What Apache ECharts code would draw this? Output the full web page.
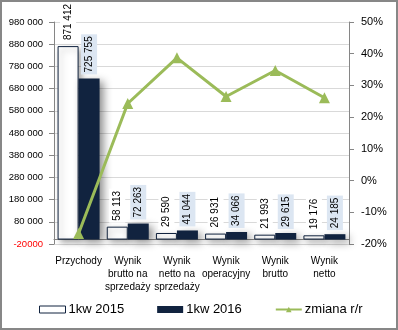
<!DOCTYPE html>
<html>
<head>
<meta charset="utf-8">
<script src="https://cdn.jsdelivr.net/npm/echarts@6/dist/echarts.min.js"></script>
<style>
html,body{margin:0;padding:0;background:#fff;}
#c{width:398px;height:330px;}
</style>
</head>
<body>
<div id="c"></div>
<script>
var categories = ['Przychody', 'Wynik\nbrutto na\nsprzedaży', 'Wynik\nnetto na\nsprzedaży', 'Wynik\noperacyjny', 'Wynik\nbrutto', 'Wynik\nnetto'];
var values2015 = [871412, 58113, 29590, 26931, 21993, 19176];
var values2016 = [725755, 72263, 41044, 34066, 29615, 24185];
var changeYoY = [-16.7, 24.3, 38.7, 26.5, 34.7, 26.1];
var leftTicks = { min: -20000, max: 980000, interval: 100000 };
var rightTicks = { min: -20, max: 50, interval: 10 };

function fmtThousands(v) {
  var s = String(Math.abs(v));
  var out = s.replace(/\B(?=(\d{3})+(?!\d))/g, ' ');
  return (v < 0 ? '-' : '') + out;
}

var FONT = 'Liberation Sans';
var chart = echarts.init(document.getElementById('c'));

var labelBase = {
  show: true,
  position: 'top',
  rotate: 90,
  align: 'left',
  verticalAlign: 'middle',
  distance: 4,
  fontFamily: FONT,
  fontSize: 10,
  color: '#000',
  lineHeight: 12,
  padding: [2, 2],
  formatter: function (p) { return fmtThousands(p.value); }
};

chart.setOption({
  animation: false,
  textStyle: { fontFamily: FONT },
  graphic: [{
    type: 'rect',
    shape: { x: 1, y: 1, width: 396, height: 328 },
    style: { fill: 'none', stroke: '#878787', lineWidth: 2 },
    silent: true,
    z: 100
  }],
  grid: { left: 54, right: 49, top: 22, bottom: 86, containLabel: false },
  legend: {
    left: 39,
    top: 303,
    padding: 0,
    itemWidth: 26,
    itemHeight: 7,
    itemGap: 33,
    textStyle: { fontFamily: FONT, fontSize: 13, color: '#000', padding: [0, 0, 0, -2] },
    data: [
      { name: '1kw 2015', icon: 'rect', itemStyle: { color: '#fff', borderColor: '#11233f', borderWidth: 1, shadowBlur: 0, shadowOffsetX: 0, shadowOffsetY: 0 } },
      { name: '1kw 2016', icon: 'rect', itemStyle: { shadowBlur: 0, shadowOffsetX: 0, shadowOffsetY: 0 } },
      { name: 'zmiana r/r' }
    ]
  },
  xAxis: {
    type: 'category',
    data: categories,
    axisLine: { show: true, onZero: true, lineStyle: { color: '#868686', width: 1 } },
    axisTick: { show: false },
    axisLabel: {
      interval: 0,
      fontFamily: FONT,
      fontSize: 10,
      lineHeight: 13,
      color: '#000',
      margin: 11
    },
    splitLine: { show: false }
  },
  yAxis: [{
    type: 'value',
    min: leftTicks.min,
    max: leftTicks.max,
    interval: leftTicks.interval,
    axisLine: { show: true, lineStyle: { color: '#868686' } },
    axisTick: { show: true, inside: false, length: 5, lineStyle: { color: '#868686' } },
    axisLabel: {
      fontFamily: FONT,
      fontSize: 9.5,
      color: '#000',
      margin: 11,
      formatter: function (v) {
        if (v < 0) return '{neg|' + String(v) + '}';
        return fmtThousands(v);
      },
      rich: { neg: { color: '#ff0000', fontFamily: FONT, fontSize: 9.5 } }
    },
    splitLine: { show: true, lineStyle: { color: '#d9d9d9', width: 1 } }
  }, {
    type: 'value',
    position: 'right',
    min: rightTicks.min,
    max: rightTicks.max,
    interval: rightTicks.interval,
    axisLine: { show: true, lineStyle: { color: '#868686' } },
    axisTick: { show: true, inside: false, length: 5, lineStyle: { color: '#868686' } },
    axisLabel: {
      fontFamily: FONT,
      fontSize: 11,
      color: '#000',
      margin: 12,
      formatter: function (v) { return v + '%'; }
    },
    splitLine: { show: false }
  }],
  series: [{
    name: '1kw 2015',
    type: 'bar',
    data: values2015,
    barWidth: 21,
    barGap: '0%',
    itemStyle: {
      color: '#fff',
      borderColor: '#11233f',
      borderWidth: 1,
      shadowBlur: 6,
      shadowOffsetX: 3,
      shadowOffsetY: 3,
      shadowColor: 'rgba(0,0,0,0.35)'
    },
    label: Object.assign({}, labelBase, { backgroundColor: '#ffffff' }),
    z: 2
  }, {
    name: '1kw 2016',
    type: 'bar',
    data: values2016,
    barWidth: 21,
    barGap: '0%',
    itemStyle: {
      color: '#11233f',
      shadowBlur: 8,
      shadowOffsetX: 4,
      shadowOffsetY: 3,
      shadowColor: 'rgba(0,0,0,0.45)'
    },
    label: Object.assign({}, labelBase, { backgroundColor: '#dce6f2' }),
    z: 2
  }, {
    name: 'zmiana r/r',
    type: 'line',
    yAxisIndex: 1,
    data: changeYoY,
    symbol: 'triangle',
    symbolSize: 11,
    lineStyle: { color: '#9bbb59', width: 3 },
    itemStyle: { color: '#9bbb59' },
    z: 5
  }]
});
</script>
</body>
</html>
